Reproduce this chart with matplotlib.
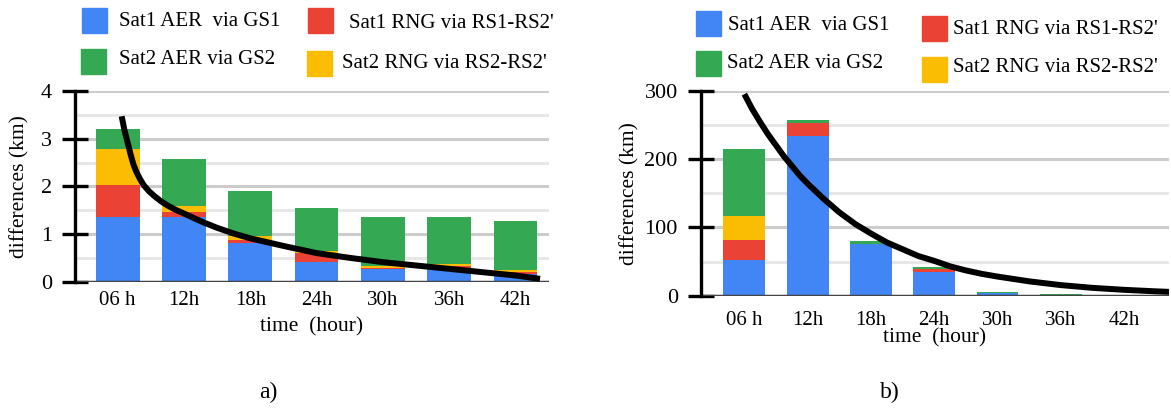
import numpy as np
import matplotlib
matplotlib.use("Agg")
import matplotlib.pyplot as plt
from matplotlib.patches import Rectangle

plt.rcParams['font.family'] = ['Liberation Serif', 'DejaVu Serif']

# categories
hours = ["06 h", "12h", "18h", "24h", "30h", "36h", "42h"]
series_names = ["Sat1 AER  via GS1", "Sat1 RNG via RS1-RS2'",
                "Sat2 RNG via RS2-RS2'", "Sat2 AER via GS2"]
colors = ["#4285F4", "#EA4335", "#FBBC04", "#34A853"]

# panel a) values (km), stacked bottom -> top
a_sat1_aer = [1.36, 1.36, 0.82, 0.42, 0.26, 0.28, 0.17]
a_sat1_rng = [0.67, 0.10, 0.05, 0.18, 0.03, 0.05, 0.03]
a_sat2_rng = [0.76, 0.13, 0.09, 0.04, 0.04, 0.04, 0.04]
a_sat2_aer = [0.41, 0.99, 0.94, 0.91, 1.03, 0.99, 1.04]

# panel b) values (km)
b_sat1_aer = [52, 233, 75, 34, 4.5, 0.3, 0]
b_sat1_rng = [29, 20, 0, 5.5, 0, 1.2, 0]
b_sat2_rng = [36, 0, 0, 0, 0, 0, 0]
b_sat2_aer = [97, 4, 4.5, 2, 1.5, 1.4, 0]

# trend curves (x in category units, 06 h = 0)
a_trend_x = [0.06, 0.08, 0.10, 0.12, 0.14, 0.17, 0.20, 0.24, 0.28, 0.33, 0.39,
             0.47, 0.55, 0.65, 0.75, 0.87, 1.0, 1.14, 1.3, 1.5, 1.75, 2.0,
             2.5, 3.0, 3.5, 4.0, 4.5, 5.0, 5.5, 6.0, 6.37]
a_trend_y = [3.47, 3.33, 3.19, 3.08, 2.97, 2.81, 2.64, 2.45, 2.31, 2.17, 2.03,
             1.90, 1.80, 1.69, 1.60, 1.51, 1.43, 1.34, 1.24, 1.13, 1.01, 0.91,
             0.75, 0.60, 0.50, 0.41, 0.34, 0.27, 0.20, 0.13, 0.06]
b_trend_x = [0.0, 0.125, 0.25, 0.375, 0.5, 0.625, 0.75, 0.875, 1.0, 1.25, 1.5,
             1.75, 2.0, 2.25, 2.5, 2.75, 3.0, 3.25, 3.5, 3.75, 4.0, 4.5, 5.0,
             5.5, 6.0, 6.5, 6.72]
b_trend_y = [295, 273, 254, 236, 220, 204, 190, 176, 164, 142, 122,
             105, 91, 78, 68, 58, 51, 43, 37, 32, 28, 21, 15.5,
             11.5, 8.6, 6.4, 5.6]

W, H = 1171, 412
fig = plt.figure(figsize=(W / 100, H / 100), dpi=100)


def px(x0, y_top, x1, y_bot):
    return [x0 / W, 1 - y_bot / H, (x1 - x0) / W, (y_bot - y_top) / H]


def draw_panel(ax, stacks, ymax, major, trend_x, trend_y, xlim, ypad):
    x = np.arange(len(hours))
    bottom = np.zeros(len(hours))
    for vals, c in zip(stacks, colors):
        ax.bar(x, vals, 0.66, bottom=bottom, color=c, zorder=3)
        bottom += np.array(vals)
    ax.plot(trend_x, trend_y, color="black", lw=4.3, zorder=5,
            solid_capstyle="butt", solid_joinstyle="round")
    ax.set_xlim(*xlim)
    ax.set_ylim(0, ymax)
    ax.set_yticks(np.arange(0, ymax + 0.001, major))
    ax.set_yticks(np.arange(major / 2, ymax, major), minor=True)
    ax.grid(axis="y", which="major", color="#cccccc", lw=2.2, zorder=0)
    ax.grid(axis="y", which="minor", color="#e6e6e6", lw=2.0, zorder=0)
    ax.axhline(0, color="#444444", lw=2.5, zorder=4)
    for s in ["top", "right", "bottom"]:
        ax.spines[s].set_visible(False)
    ax.spines["left"].set_linewidth(2.4)
    ax.spines["left"].set_zorder(6)
    ax.tick_params(axis="y", which="major", direction="inout", length=19,
                   width=2.4, labelsize=16, pad=7)
    ax.tick_params(axis="y", which="minor", length=0)
    ax.set_xticks(x)
    ax.set_xticklabels(hours)
    ax.tick_params(axis="x", length=0, labelsize=15, pad=ypad)
    ax.set_ylabel("differences (km)", fontsize=15.5)


ax1 = fig.add_axes(px(75, 91, 549, 281.7))
draw_panel(ax1, [a_sat1_aer, a_sat1_rng, a_sat2_rng, a_sat2_aer], 4, 1,
           a_trend_x, a_trend_y, (-0.644, 6.505), 7)
ax1.set_xlabel("time  (hour)", fontsize=15.5, labelpad=5)
ax1.yaxis.set_label_coords(-0.095, 0.5)

ax2 = fig.add_axes(px(700.7, 90.7, 1169, 295.7))
draw_panel(ax2, [b_sat1_aer, b_sat1_rng, b_sat2_rng, b_sat2_aer], 300, 100,
           b_trend_x, b_trend_y, (-0.69, 6.71), 11)
ax2.set_xlabel("time  (hour)", fontsize=15.5, labelpad=-1)
ax2.yaxis.set_label_coords(-0.13, 0.5)


# legends drawn in figure pixels
def legend_item(xb, yb, c, xt, yt, label):
    fig.patches.append(Rectangle((xb / W, 1 - (yb + 25) / H), 25 / W, 25 / H,
                                 color=c, transform=fig.transFigure))
    fig.text(xt / W, 1 - yt / H, label, fontsize=15, va="center", ha="left")


legend_item(82, 8, colors[0], 119, 21, series_names[0])
legend_item(308, 8, colors[1], 349, 23, series_names[1])
legend_item(81, 49, colors[3], 119, 60, series_names[3])
legend_item(307, 51, colors[2], 342, 64, series_names[2])

legend_item(696, 11, colors[0], 728, 25, series_names[0])
legend_item(922, 16, colors[1], 953, 29, series_names[1])
legend_item(696, 51, colors[3], 727, 64, series_names[3])
legend_item(922, 57, colors[2], 953, 68, series_names[2])

fig.text(268 / W, 1 - 392 / H, "a)", fontsize=17, ha="center", va="center")
fig.text(890 / W, 1 - 392 / H, "b)", fontsize=17, ha="center", va="center")

fig.savefig("out.png", dpi=100)
